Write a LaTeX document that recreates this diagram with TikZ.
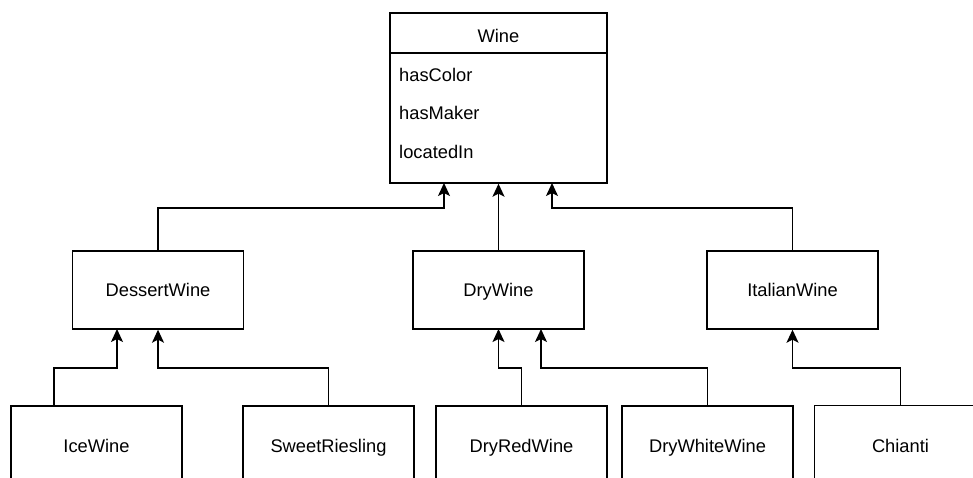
\documentclass[tikz,border=0pt]{standalone}
\usepackage{fontspec}
\setmainfont{Liberation Sans}
\usetikzlibrary{arrows.meta}
\begin{document}
\begin{tikzpicture}[x=1pt,y=-1pt,
  every node/.style={font=\fontsize{18.3}{22}\selectfont, text height=13.1pt, text depth=0pt},
  box/.style={draw, line width=1.4pt, inner sep=0pt, minimum width=171pt, minimum height=78pt},
  lowbox/.style={box, minimum height=80pt},
  attr/.style={anchor=west, inner sep=0pt},
  edge/.style={line width=1.4pt},
  arr/.style={line width=1.4pt, -{Stealth[length=13pt,width=12pt,inset=3pt]}}
]
\useasboundingbox (0,0) rectangle (973,478);
\clip (0,0) rectangle (973,478);
% Wine class
\node[draw, line width=1.4pt, inner sep=0pt, minimum width=217pt, minimum height=40pt] (winehead) at (498.5,33) {};
\node[inner sep=0pt] (winelabel) at (498.5,35.5) {Wine};
\node[draw, line width=1.4pt, inner sep=0pt, minimum width=217pt, minimum height=130pt] (winebody) at (498.5,118) {};
\node[attr] (a1) at (399,75) {hasColor};
\node[attr] (a2) at (399,113) {hasMaker};
\node[attr] (a3) at (399,152) {locatedIn};
% middle level
\node[box] (dessert) at (158,290) {DessertWine};
\node[box] (dry) at (498.5,290) {DryWine};
\node[box] (italian) at (792.5,290) {ItalianWine};
% bottom level
\node[lowbox] (ice) at (96.5,446) {IceWine};
\node[lowbox] (sweet) at (328.5,446) {SweetRiesling};
\node[lowbox] (dryred) at (521.5,446) {DryRedWine};
\node[lowbox] (drywhite) at (707.5,446) {DryWhiteWine};
\node[lowbox, draw=none] (chianti) at (900.5,446) {Chianti};
\draw[edge] (chianti.south west) |- ([xshift=20pt]chianti.north east);
% connector end points
\coordinate (wa) at (444,183);
\coordinate (wam) at (444,208);
\coordinate (wc) at (552,183);
\coordinate (wcm) at (552,208);
\coordinate (da) at (117,329);
\coordinate (dam) at (117,368);
\coordinate (dbm) at (158,368);
\coordinate (ra) at (498.5,329);
\coordinate (ram) at (498.5,368);
\coordinate (rb) at (541,329);
\coordinate (rbm) at (541,368);
\coordinate (icm) at (792.5,368);
% connectors
\draw[arr] (dessert.north) |- (wam) -- (wa);
\draw[arr] (dry.north) -- (winebody.south);
\draw[arr] (italian.north) |- (wcm) -- (wc);
\draw[arr] ([xshift=-42.5pt]ice.north) |- (dam) -- (da);
\draw[arr] (sweet.north) |- (dbm) -- (dessert.south);
\draw[arr] (dryred.north) |- (ram) -- (ra);
\draw[arr] (drywhite.north) |- (rbm) -- (rb);
\draw[arr] (chianti.north) |- (icm) -- (italian.south);
\end{tikzpicture}
\end{document}
